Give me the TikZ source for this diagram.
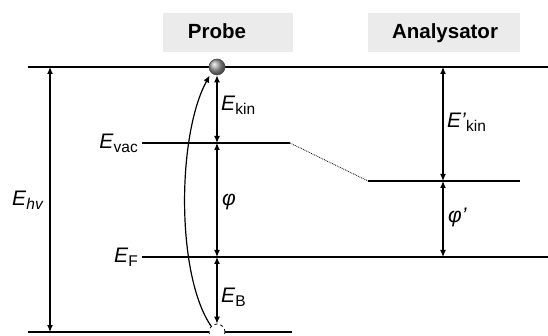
\documentclass[tikz,border=0pt]{standalone}
\usepackage{fontspec}
\setmainfont{Liberation Sans}
\usetikzlibrary{arrows.meta,positioning,calc}
\newcommand{\en}[2]{\textit{#1}\raisebox{-4pt}{\fontsize{15.5}{18}\selectfont #2}}

\begin{document}
\begin{tikzpicture}[x=1pt, y=-1pt,
    level/.style={line width=1.8pt},
    dim/.style={{Latex[length=7pt,width=6pt]}-{Latex[length=7pt,width=6pt]},
      line width=1.2pt},
    head/.style={fill=black!8, minimum height=39pt, inner sep=0pt,
      font=\fontsize{20}{24}\selectfont\bfseries},
    lbl/.style={font=\fontsize{21}{25}\selectfont, inner sep=0pt},
  ]
  \useasboundingbox (0,0) rectangle (548,336);

  % --- headers ---
  \node[head, minimum width=130pt] (probe) at (228,32.5) {};
  \node[lbl, font=\fontsize{20.5}{24}\selectfont\bfseries, anchor=base]
    (probetxt) at (217,39) {Probe};
  \node[head, minimum width=152pt] (ana) at (444,32.5) {};
  \node[lbl, font=\fontsize{20.5}{24}\selectfont\bfseries, anchor=base]
    (anatxt) at (445,39) {Analysator};

  % --- energy levels ---
  \coordinate (topL) at (28,67);   \coordinate (topR) at (548,67);
  \coordinate (vacL) at (142,143); \coordinate (vacR) at (290,143);
  \coordinate (avacL) at (368,181); \coordinate (avacR) at (520,181);
  \coordinate (fL) at (142,257);   \coordinate (fR) at (548,257);
  \coordinate (botL) at (28,332);  \coordinate (botR) at (292,332);

  \draw[level] (topL) -- (topR);
  \draw[level] (vacL) -- (vacR);
  \draw[densely dotted, line width=0.8pt] (vacR) -- (avacL);
  \draw[level] (avacL) -- (avacR);
  \draw[level] (fL) -- (fR);
  \draw[level] (botL) -- (botR);

  % electron and hole
  \node[circle, ball color=gray!75, draw=black!70, line width=0.6pt,
    minimum size=16pt, inner sep=0pt] (el) at (217,67) {};
  \node[circle, draw, dashed, fill=white, line width=0.8pt,
    minimum size=16pt, inner sep=0pt] (hole) at (217,332) {};

  % --- probe side ---
  \coordinate (hvT) at (50,67);  \coordinate (hvB) at (50,332);
  \coordinate (pVac) at (217,143); \coordinate (pF) at (217,257);
  \draw[dim] (hvT) -- (hvB);
  \draw[dim] (el.south) -- (pVac);
  \draw[dim] (pVac) -- (pF);
  \draw[dim] (pF) -- (hole.north);
  \draw[-{Latex[length=7pt,width=6pt]}, line width=1.2pt, shorten >=3pt]
    (hole.135) .. controls (176,275) and (177,135) .. (el.225);

  % --- analyser side ---
  \coordinate (aT) at (443,67); \coordinate (aVac) at (443,181);
  \coordinate (aF) at (443,257);
  \draw[dim] (aT) -- (aVac);
  \draw[dim] (aVac) -- (aF);

  % --- labels ---
  \node[lbl, anchor=base east] (evac) at (138,149) {\en{E}{vac}};
  \node[lbl, anchor=base east] (ef) at (138,263) {\en{E}{F}};
  \node[lbl, anchor=base west] (ehv) at (12,206) {\en{E}{\textit{hv}}};
  \node[lbl, anchor=base west] (ekin) at (221,111) {\en{E}{kin}};
  \node[lbl, anchor=base west] (phi) at (222,206) {\textit{φ}};
  \node[lbl, anchor=base west] (eb) at (221,302) {\en{E}{B}};
  \node[lbl, anchor=base west] (ekin2) at (447,128) {\en{E'}{kin}};
  \node[lbl, anchor=base west] (phi2) at (448,223) {\textit{φ'}};
\end{tikzpicture}
\end{document}
